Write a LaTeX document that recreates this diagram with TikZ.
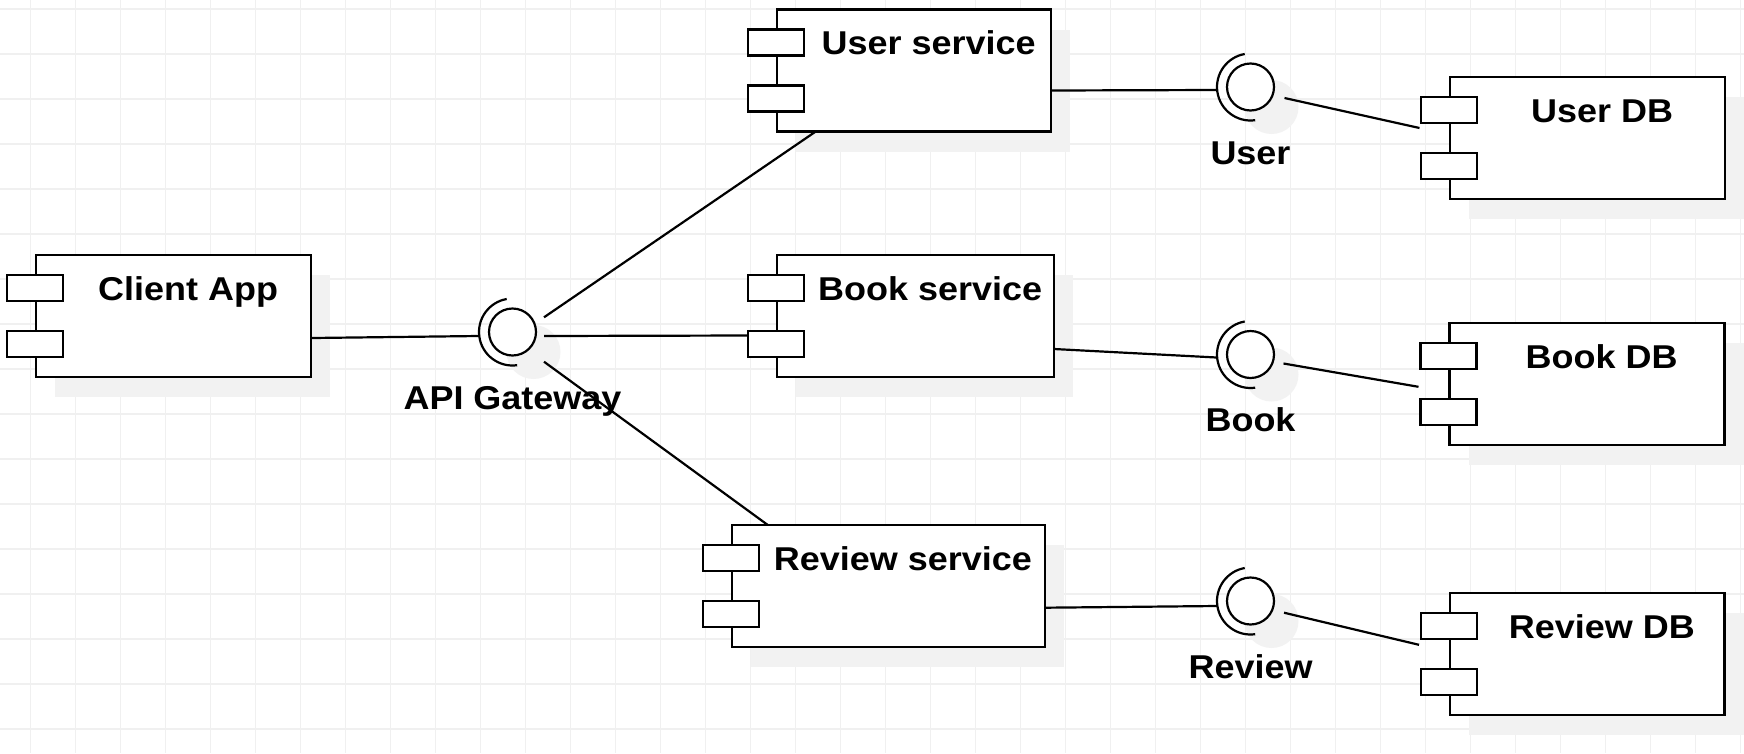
\documentclass[tikz,border=0pt]{standalone}
\usepackage{fontspec}
\setmainfont{Liberation Sans}[FakeStretch=1.09]
\usetikzlibrary{calc}

\tikzset{
  body/.style={draw=black, fill=white, line width=2.2pt, rectangle, inner sep=0pt, outer sep=0pt, anchor=north west},
  port/.style={draw=black, fill=white, line width=2.2pt, rectangle, inner sep=0pt, outer sep=0pt,
               minimum width=56pt, minimum height=26pt, anchor=north west},
  lbl/.style={font=\fontsize{33}{38}\selectfont\bfseries, inner sep=0pt, anchor=base},
  conn/.style={draw=black, line width=2.2pt},
  shadowc/.style={fill=black!5},
  gridc/.style={draw=black!6, line width=1.5pt},
  iface/.style={circle, draw=black, fill=white, line width=2.2pt, minimum size=47pt, inner sep=0pt, outer sep=0pt},
  sock/.style={draw=black, line width=2.2pt},
}

% name, left, top, width, label
\newcommand\umlcomp[5]{%
  \fill[shadowc] (#2+19,#3+20) rectangle ++(#4,122);
  \node[body, minimum width=#4pt, minimum height=122pt] (#1) at (#2,#3) {};
  \node[port] (#1-p1) at (#2-29,#3+20) {};
  \node[port] (#1-p2) at (#2-29,#3+76) {};
  \node[lbl] (#1-t) at (#2+#4/2+14.6,#3+45.4) {#5};
}
% name, x, y, label
\newcommand\umliface[4]{%
  \fill[shadowc] (#2+21,#3+20) circle[radius=27];
  \node[iface] (#1) at (#2,#3) {};
  \draw[sock] ([shift={(82:33.5)}]#1.center) arc[start angle=82, end angle=260, radius=33.5];
  \node[lbl] (#1-t) at (#2,#3+77) {#4};
}

\begin{document}
\begin{tikzpicture}[x=1pt,y=-1pt]
\useasboundingbox (0,0) rectangle (1744,753);
\fill[white] (0,0) rectangle (1744,753);
\foreach \k in {0,...,38} \draw[gridc] (30.7+45*\k,0) -- (30.7+45*\k,753);
\foreach \k in {0,...,16} \draw[gridc] (0,9+45*\k) -- (1744,9+45*\k);

\umlcomp{client}{36}{255}{275}{Client App}
\umlcomp{usvc}{777}{9.5}{274}{User service}
\umlcomp{bsvc}{777}{255}{277}{Book service}
\umlcomp{rsvc}{731.8}{525}{313}{Review service}
\umlcomp{udb}{1450}{76.7}{275}{User DB}
\umlcomp{bdb}{1449.5}{322.8}{275}{Book DB}
\umlcomp{rdb}{1450}{592.8}{274.5}{Review DB}

\umliface{api}{512.5}{332}{API Gateway}
\umliface{uif}{1250.5}{87}{User}
\umliface{bif}{1250.5}{354.5}{Book}
\umliface{rif}{1250.5}{601}{Review}

\draw[conn] ($(client.east)+(1,22)$) -- ($(api.center)+(-34,4)$);
\draw[conn] ($(api.center)+(31.5,-14.7)$) -- ($(usvc.south)+(-99,0.5)$);
\draw[conn] ($(api.center)+(31.5,4)$) -- ($(bsvc-p2.west)+(0,-8.5)$);
\draw[conn] ($(api.center)+(31.5,29.7)$) -- ($(rsvc.north west)+(36,0)$);
\draw[conn] ($(usvc.east)+(0,20)$) -- ($(uif.center)+(-33.5,3)$);
\draw[conn] ($(bsvc.east)+(0,33)$) -- ($(bif.center)+(-34,3)$);
\draw[conn] ($(rsvc.east)+(0,21.7)$) -- ($(rif.center)+(-33.5,5)$);
\draw[conn] ($(uif.center)+(34,11)$) -- ($(udb.west)+(-30.5,-9.7)$);
\draw[conn] ($(bif.center)+(33,9)$) -- ($(bdb.west)+(-31,3)$);
\draw[conn] ($(rif.center)+(33.5,11.7)$) -- ($(rdb.west)+(-31,-9)$);
\end{tikzpicture}
\end{document}
